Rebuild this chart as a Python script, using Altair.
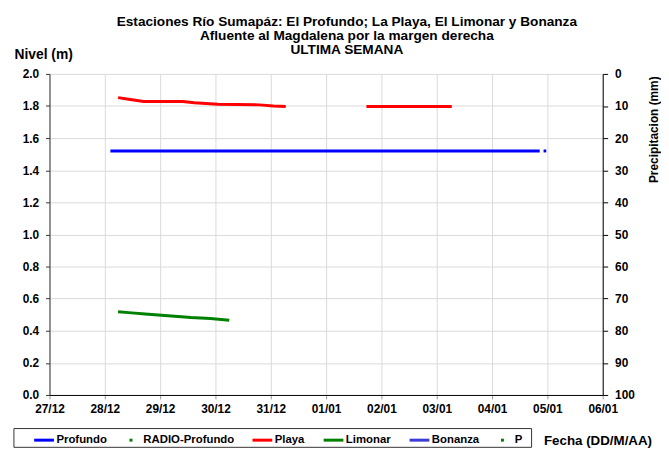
import altair as alt
import pandas as pd

FONT = "Liberation Sans"

# ---- series (date, level in m) ----
profundo_fecha = ["2023-12-28T02:25", "2024-01-04T20:40", "2024-01-04T22:20", "2024-01-04T23:30"]
profundo_nivel = [1.52, 1.52, 1.52, 1.52]
profundo_tramo = [1, 1, 2, 2]

playa_fecha = ["2023-12-28T05:45", "2023-12-28T10:20", "2023-12-28T16:50", "2023-12-29T09:50",
               "2023-12-29T14:50", "2023-12-30T01:00", "2023-12-30T19:00", "2023-12-31T01:10",
               "2023-12-31T06:30",
               "2024-01-01T17:30", "2024-01-02T12:00", "2024-01-03T06:30"]
playa_nivel = [1.852, 1.842, 1.828, 1.828, 1.820, 1.811, 1.807, 1.800, 1.797,
               1.797, 1.797, 1.797]
playa_tramo = [1, 1, 1, 1, 1, 1, 1, 1, 1, 2, 2, 2]

limonar_fecha = ["2023-12-28T05:45", "2023-12-28T10:20", "2023-12-28T17:30", "2023-12-29T02:00",
                 "2023-12-29T13:25", "2023-12-29T21:50", "2023-12-30T06:00"]
limonar_nivel = [0.519, 0.513, 0.505, 0.495, 0.482, 0.476, 0.466]
limonar_tramo = [1, 1, 1, 1, 1, 1, 1]

bonanza_fecha = []
bonanza_nivel = []

# precipitation series (mm) - no values in the week shown
radio_profundo_fecha = []
radio_profundo_mm = []
p_fecha = []
p_mm = []

series = ["Profundo", "RADIO-Profundo", "Playa", "Limonar", "Bonanza", "P"]
colores = ["#0000FF", "#008000", "#FF0000", "#008000", "#3B3BD6", "#008000"]
DOT = "M-0.15,0H0.15"
formas = ["stroke", DOT, "stroke", "stroke", "stroke", DOT]

dias = [alt.DateTime(year=2023, month=12, date=d) for d in range(27, 32)] + \
       [alt.DateTime(year=2024, month=1, date=d) for d in range(1, 7)]

def tabla(nombre, fechas, valores, tramos, col):
    return pd.DataFrame({"fecha": fechas, col: valores, "serie": nombre,
                         "tramo": [f"{nombre}-{t}" for t in tramos]})

niveles = pd.concat([
    tabla("Profundo", profundo_fecha, profundo_nivel, profundo_tramo, "nivel"),
    tabla("Playa", playa_fecha, playa_nivel, playa_tramo, "nivel"),
    tabla("Limonar", limonar_fecha, limonar_nivel, limonar_tramo, "nivel"),
    tabla("Bonanza", bonanza_fecha, bonanza_nivel, [1] * len(bonanza_fecha), "nivel"),
], ignore_index=True)

precip = pd.concat([
    tabla("RADIO-Profundo", radio_profundo_fecha, radio_profundo_mm, [1] * len(radio_profundo_fecha), "mm"),
    tabla("P", p_fecha, p_mm, [1] * len(p_fecha), "mm"),
], ignore_index=True)

color_scale = alt.Scale(domain=series, range=colores)
x_scale = alt.Scale(domain=[alt.DateTime(year=2023, month=12, date=27),
                            alt.DateTime(year=2024, month=1, date=6)])

x_axis = alt.Axis(values=dias, format="%d/%m", labelFontSize=12, labelFontWeight="bold",
                  labelColor="black", labelPadding=5, labelFlush=False, tickSize=4,
                  tickColor="#999999", domainColor="black", grid=True, gridColor="#d9d9d9",
                  title="Fecha (DD/M/AA)", titleX=500, titleY=46, titleAlign="left",
                  titleBaseline="middle", titleFontSize=13.5, titleFontWeight="bold",
                  titleColor="black")

leyenda = alt.Legend(title=None, orient="none", legendX=-17, legendY=359,
                     direction="horizontal", symbolSize=400, symbolStrokeWidth=3,
                     labelFont=FONT, labelFontSize=11.5, labelFontWeight="bold",
                     labelColor="black", labelOffset=1, columnPadding=12, padding=0,
                     symbolOpacity=1)

puntos = alt.Chart(precip).mark_point(filled=False, strokeWidth=3, opacity=1, size=9).encode(
    x=alt.X("fecha:T", scale=x_scale, axis=x_axis),
    y=alt.Y("mm:Q", scale=alt.Scale(domain=[0, 100], reverse=True),
            axis=alt.Axis(orient="right", values=list(range(0, 101, 10)), grid=False,
                          labelFontSize=12, labelFontWeight="bold", labelColor="black",
                          labelPadding=7, tickSize=5, tickColor="black", domainColor="black",
                          title="Precipitacion (mm)", titleAngle=270, titleX=51, titleY=56,
                          titleAlign="center", titleBaseline="middle", titleFontSize=12,
                          titleFontWeight="bold", titleColor="black")),
    color=alt.Color("serie:N", scale=color_scale, legend=leyenda),
    shape=alt.Shape("serie:N", scale=alt.Scale(domain=series, range=formas), legend=leyenda),
)

lines = alt.Chart(niveles).mark_line(strokeWidth=3).encode(
    x=alt.X("fecha:T", scale=x_scale, axis=x_axis),
    y=alt.Y("nivel:Q", scale=alt.Scale(domain=[0, 2]),
            axis=alt.Axis(orient="left", values=[i / 10 for i in range(0, 21, 2)], format=".1f",
                          labelFontSize=12, labelFontWeight="bold", labelColor="black",
                          labelPadding=7, tickSize=4, tickColor="#333333",
                          domainColor="#333333", grid=True, gridColor="#d9d9d9",
                          title="Nivel (m)", titleAngle=0, titleX=-36, titleY=-20,
                          titleAlign="left", titleBaseline="middle", titleFontSize=14,
                          titleFontWeight="bold", titleColor="black")),
    color=alt.Color("serie:N", scale=color_scale),
    detail="tramo:N",
)

marco = alt.Chart(pd.DataFrame({"k": [0]})).mark_rect(fill=None, stroke="#333333", strokeWidth=1).encode(
    x=alt.value(-36), x2=alt.value(488), y=alt.value(359), y2=alt.value(378)
)

chart = alt.layer(puntos, lines, marco).resolve_scale(y="independent").properties(
    width=560, height=325,
    padding={"left": 42, "top": 64, "right": 59, "bottom": 53},
    autosize=alt.AutoSizeParams(type="none"),
    title=alt.TitleParams(
        text=["Estaciones Río Sumapáz: El Profundo; La Playa, El Limonar y Bonanza",
              "Afluente al Magdalena por la margen derecha",
              "ULTIMA SEMANA"],
        anchor="middle", dx=21, dy=28, fontSize=13.8, fontWeight="bold", font=FONT,
        lineHeight=14.5, offset=18, color="black"),
).configure(font=FONT).configure_view(stroke=None)

chart.save("out.html", embed_options={"renderer": "svg", "actions": False})
